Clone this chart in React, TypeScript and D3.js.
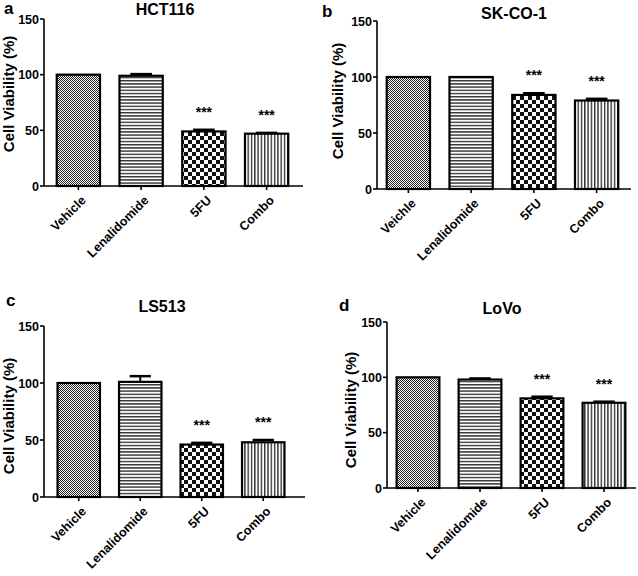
import * as d3 from "d3";

// chart data
const categories = ["Vehicle", "Lenalidomide", "5FU", "Combo"];
const categoriesB = ["Veichle", "Lenalidomide", "5FU", "Combo"];
const panelTitles = ["HCT116", "SK-CO-1", "LS513", "LoVo"];
const panelLetters = ["a", "b", "c", "d"];
const yTicks = [0, 50, 100, 150];

const valuesA = [100, 99, 49, 47];
const errorsA = [0, 1.5, 1.5, 0.7];
const valuesB = [100, 100, 84, 79];
const errorsB = [0, 0, 1.5, 1.5];
const valuesC = [100, 101, 46, 48];
const errorsC = [0, 5, 1.5, 2];
const valuesD = [100, 98, 81, 77];
const errorsD = [0, 1, 1.5, 1];
const signif = ["", "", "***", "***"];

// layout per panel (pixel positions of the axes)
const layouts = [
  { axisX: 44, top: 19, bottom: 186, right: 303, band: [47, 298], labelX: 9, labelY: 94 },
  { axisX: 377, top: 21, bottom: 189, right: 631, band: [377, 628], labelX: 338, labelY: 101 },
  { axisX: 44, top: 326, bottom: 497, right: 305, band: [48, 294], labelX: 9, labelY: 416 },
  { axisX: 387, top: 322, bottom: 488, right: 636, band: [387, 635], labelX: 351, labelY: 410 },
];
const titlePos = [[165, 15], [514, 19], [162, 312], [502, 314]];
const letterPos = [[4, 14], [322, 17], [6, 306], [339, 311]];

const panels = [
  { cats: categories, values: valuesA, errors: errorsA },
  { cats: categoriesB, values: valuesB, errors: errorsB },
  { cats: categories, values: valuesC, errors: errorsC },
  { cats: categories, values: valuesD, errors: errorsD },
];

const fills = ["url(#pFine)", "url(#pHoriz)", "url(#pChecker)", "url(#pVert)"];
const font = "'Liberation Sans', Arial, sans-serif";

function Panel({ idx }: { idx: number }) {
  const p = panels[idx];
  const L = layouts[idx];
  const x = d3.scaleBand<string>()
    .domain(p.cats)
    .range(L.band as [number, number])
    .paddingInner(0.31)
    .paddingOuter(0.155);
  const y = d3.scaleLinear().domain([0, 150]).range([L.bottom, L.top]);
  const bw = x.bandwidth();

  return (
    <g fontFamily={font} fontWeight="bold">
      <text x={letterPos[idx][0]} y={letterPos[idx][1]} fontSize={17}>{panelLetters[idx]}</text>
      <text x={titlePos[idx][0]} y={titlePos[idx][1]} fontSize={16} textAnchor="middle">{panelTitles[idx]}</text>

      {p.cats.map((c, i) => {
        const x0 = x(c)!;
        const cx = x0 + bw / 2;
        const top = y(p.values[i]);
        const errTop = y(p.values[i] + p.errors[i]);
        return (
          <g key={c}>
            <rect x={x0} y={top} width={bw} height={L.bottom - top} fill={fills[i]} stroke="#000" strokeWidth={2.2} />
            {p.errors[i] > 0 && (
              <g stroke="#000">
                <line x1={cx} x2={cx} y1={top} y2={errTop} strokeWidth={2} />
                <line x1={cx - bw * 0.25} x2={cx + bw * 0.25} y1={errTop} y2={errTop} strokeWidth={2.5} />
              </g>
            )}
            {signif[i] && (
              <text x={cx} y={errTop - 13} fontSize={14} textAnchor="middle">{signif[i]}</text>
            )}
          </g>
        );
      })}

      {/* y axis */}
      <line x1={L.axisX} x2={L.axisX} y1={L.top} y2={L.bottom} stroke="#000" strokeWidth={1.6} />
      {yTicks.map(t => (
        <g key={t}>
          <line x1={L.axisX - 4} x2={L.axisX} y1={y(t)} y2={y(t)} stroke="#000" strokeWidth={1.6} />
          <text x={L.axisX - 5} y={y(t)} dy="0.36em" fontSize={12.5} textAnchor="end">{t}</text>
        </g>
      ))}
      <g transform={`translate(${L.labelX},${L.labelY})`}>
        <text transform="rotate(-90)" dy="0.36em" fontSize={15} textAnchor="middle">
          Cell Viability (%)
        </text>
      </g>

      {/* x axis */}
      <line x1={L.axisX} x2={L.right} y1={L.bottom} y2={L.bottom} stroke="#000" strokeWidth={1.6} />
      {p.cats.map(c => {
        const cx = x(c)! + bw / 2;
        return (
          <g key={c}>
            <line x1={cx} x2={cx} y1={L.bottom} y2={L.bottom + 4} stroke="#000" strokeWidth={1.6} />
            <g transform={`translate(${cx + 5},${L.bottom + 12})`}>
              <text transform="rotate(-45)" dy="0.36em" fontSize={12.5} textAnchor="end">
                {c}
              </text>
            </g>
          </g>
        );
      })}
    </g>
  );
}

export default function App() {
  return (
    <svg width={638} height={576} style={{ display: "block", position: "absolute", left: 0, top: 0, background: "#fff" }}>
      <defs>
        <pattern id="pFine" width={2} height={2} patternUnits="userSpaceOnUse">
          <rect width={2} height={2} fill="#fff" />
          <rect width={1} height={1} fill="#222" />
          <rect x={1} y={1} width={1} height={1} fill="#222" />
        </pattern>
        <pattern id="pHoriz" width={4} height={3.2} patternUnits="userSpaceOnUse">
          <rect width={4} height={3.2} fill="#fff" />
          <rect width={4} height={1.4} fill="#333" />
        </pattern>
        <pattern id="pChecker" width={8} height={8} patternUnits="userSpaceOnUse">
          <rect width={8} height={8} fill="#fff" />
          <rect width={4} height={4} fill="#111" />
          <rect x={4} y={4} width={4} height={4} fill="#111" />
        </pattern>
        <pattern id="pVert" width={3.3} height={4} patternUnits="userSpaceOnUse">
          <rect width={3.3} height={4} fill="#fff" />
          <rect width={1.4} height={4} fill="#333" />
        </pattern>
      </defs>
      <rect width={638} height={576} fill="#fff" />
      {[0, 1, 2, 3].map(i => <Panel key={i} idx={i} />)}
    </svg>
  );
}
